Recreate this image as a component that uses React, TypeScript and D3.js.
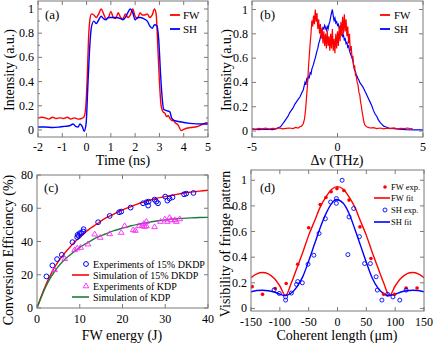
import React from "react";
import * as d3 from "d3";

const FONT = "'Liberation Serif', 'Times New Roman', Times, serif";
const RED = "#ff0000";
const BLUE = "#0000ff";
const GREEN = "#1f7a3f";
const MAGENTA = "#ff22ff";
const FRAME = "#7a7a7a";

type P = [number, number];

// ---------- (a) temporal profiles ----------
const pulseFW: P[] = [[-2,0.1],[-1.85,0.105],[-1.7,0.1],[-1.55,0.09],[-1.4,0.105],[-1.25,0.095],[-1.1,0.1],[-0.95,0.095],[-0.8,0.105],[-0.65,0.09],[-0.5,0.1],[-0.35,0.09],[-0.2,0.095],[-0.1,0.11],[-0.03,0.2],[0.03,0.45],[0.08,0.75],[0.13,0.9],[0.2,0.96],[0.3,0.95],[0.4,0.93],[0.5,0.96],[0.6,1.0],[0.7,0.96],[0.8,0.92],[0.9,0.93],[1.0,0.98],[1.1,0.93],[1.2,0.92],[1.3,0.97],[1.4,0.93],[1.5,0.92],[1.6,0.96],[1.7,0.93],[1.8,0.95],[1.9,1.0],[2.0,0.94],[2.1,0.92],[2.2,0.97],[2.3,0.95],[2.4,0.95],[2.5,0.96],[2.6,0.93],[2.7,0.95],[2.8,1.0],[2.87,0.95],[2.93,0.7],[3.0,0.4],[3.07,0.2],[3.15,0.15],[3.23,0.137],[3.3,0.11],[3.36,0.12],[3.43,0.096],[3.5,0.08],[3.57,0.077],[3.65,0.06],[3.77,0.04],[3.9,-0.005],[4.0,0.005],[4.12,0.014],[4.3,0.02],[4.53,0.027],[4.7,0.04],[4.8,0.05],[4.95,0.06],[5,0.058]];
const pulseSH: P[] = [[-2,0.025],[-1.7,0.025],[-1.4,0.02],[-1.1,0.025],[-0.9,0.03],[-0.7,0.035],[-0.55,0.05],[-0.45,0.03],[-0.35,0.025],[-0.27,0.05],[-0.18,0.03],[-0.1,-0.01],[-0.02,0.05],[0.05,0.35],[0.12,0.65],[0.2,0.85],[0.3,0.9],[0.4,0.88],[0.5,0.91],[0.6,0.94],[0.7,0.92],[0.8,0.91],[0.9,0.93],[1.0,0.93],[1.2,0.93],[1.4,0.92],[1.5,0.91],[1.6,0.93],[1.7,0.97],[1.8,1.0],[1.9,0.97],[2.0,0.91],[2.1,0.93],[2.2,0.93],[2.35,0.92],[2.5,0.9],[2.6,0.86],[2.7,0.84],[2.8,0.87],[2.9,0.86],[2.97,0.75],[3.05,0.45],[3.12,0.25],[3.18,0.17],[3.3,0.16],[3.43,0.15],[3.5,0.1],[3.6,0.08],[3.85,0.068],[4.25,0.055],[4.8,0.05],[5,0.05]];

// ---------- (b) spectra ----------
const specFW: P[] = [[-5,0.02],[-4.8,0.015],[-4.6,0.022],[-4.4,0.018],[-4.2,0.025],[-4.0,0.017],[-3.8,0.022],[-3.6,0.02],[-3.4,0.026],[-3.2,0.018],[-3.0,0.022],[-2.8,0.025],[-2.6,0.02],[-2.45,0.03],[-2.3,0.025],[-2.2,0.035],[-2.1,0.04],[-2.0,0.06],[-1.93,0.1],[-1.87,0.17],[-1.81,0.28],[-1.75,0.39],[-1.7,0.52],[-1.65,0.62],[-1.6,0.72],[-1.55,0.8],[-1.5,0.91],[-1.45,0.86],[-1.4,0.95],[-1.35,0.88],[-1.3,1.0],[-1.25,0.9],[-1.2,0.97],[-1.15,0.84],[-1.1,0.92],[-1.05,0.8],[-1.0,0.88],[-0.95,0.76],[-0.9,0.85],[-0.85,0.72],[-0.8,0.82],[-0.75,0.7],[-0.7,0.8],[-0.65,0.68],[-0.6,0.83],[-0.55,0.7],[-0.5,0.78],[-0.45,0.66],[-0.4,0.8],[-0.35,0.68],[-0.3,0.84],[-0.25,0.66],[-0.2,0.76],[-0.15,0.64],[-0.1,0.8],[-0.05,0.68],[0,0.82],[0.05,0.7],[0.1,0.86],[0.15,0.74],[0.2,0.9],[0.25,0.78],[0.3,0.94],[0.35,0.8],[0.4,0.96],[0.45,0.82],[0.5,0.92],[0.55,0.78],[0.6,0.86],[0.65,0.72],[0.7,0.8],[0.75,0.66],[0.8,0.7],[0.85,0.6],[0.9,0.62],[0.95,0.52],[1.0,0.54],[1.05,0.46],[1.1,0.45],[1.15,0.4],[1.2,0.38],[1.25,0.32],[1.3,0.3],[1.35,0.24],[1.4,0.2],[1.45,0.15],[1.5,0.11],[1.55,0.07],[1.6,0.05],[1.7,0.035],[1.8,0.03],[1.9,0.025],[2.1,0.028],[2.3,0.02],[2.5,0.025],[2.7,0.018],[2.9,0.024],[3.1,0.02],[3.3,0.026],[3.5,0.018],[3.7,0.023],[3.9,0.02],[4.1,0.025],[4.3,0.018],[4.4,0.02]];
const specSH: P[] = [[-5,0.015],[-4.6,0.012],[-4.2,0.015],[-3.8,0.012],[-3.6,0.018],[-3.4,0.03],[-3.3,0.04],[-3.2,0.06],[-3.1,0.08],[-3.0,0.1],[-2.9,0.12],[-2.8,0.15],[-2.7,0.17],[-2.6,0.19],[-2.5,0.22],[-2.4,0.24],[-2.3,0.26],[-2.2,0.28],[-2.1,0.31],[-2.0,0.34],[-1.9,0.4],[-1.85,0.38],[-1.8,0.43],[-1.75,0.42],[-1.7,0.45],[-1.65,0.44],[-1.6,0.48],[-1.55,0.47],[-1.5,0.51],[-1.45,0.53],[-1.4,0.55],[-1.35,0.58],[-1.3,0.6],[-1.25,0.63],[-1.2,0.66],[-1.15,0.68],[-1.1,0.72],[-1.05,0.74],[-1.0,0.77],[-0.95,0.8],[-0.9,0.82],[-0.85,0.85],[-0.8,0.84],[-0.75,0.87],[-0.7,0.85],[-0.65,0.83],[-0.6,0.86],[-0.55,0.84],[-0.5,0.88],[-0.45,0.9],[-0.4,0.94],[-0.35,0.97],[-0.3,1.0],[-0.25,0.95],[-0.2,0.91],[-0.15,0.93],[-0.1,0.89],[-0.05,0.9],[0,0.87],[0.05,0.88],[0.1,0.85],[0.15,0.86],[0.2,0.82],[0.25,0.81],[0.3,0.78],[0.35,0.79],[0.4,0.75],[0.45,0.76],[0.5,0.72],[0.55,0.73],[0.6,0.69],[0.65,0.7],[0.7,0.66],[0.75,0.64],[0.8,0.62],[0.85,0.6],[0.9,0.58],[0.95,0.53],[1.0,0.5],[1.05,0.49],[1.1,0.46],[1.15,0.45],[1.2,0.43],[1.25,0.42],[1.3,0.4],[1.35,0.39],[1.4,0.38],[1.45,0.37],[1.5,0.36],[1.6,0.33],[1.7,0.3],[1.8,0.27],[1.9,0.24],[2.0,0.21],[2.1,0.17],[2.2,0.14],[2.3,0.12],[2.4,0.09],[2.5,0.07],[2.6,0.055],[2.7,0.04],[2.8,0.035],[3.0,0.025],[3.3,0.02],[3.6,0.015],[4.0,0.012],[4.5,0.01],[5,0.01]];

// ---------- (c) conversion efficiency ----------
const expDKDP: P[] = [[2.2,19],[3.6,25.6],[4.7,29.4],[5.8,32],[8.3,39.6],[9.4,42.6],[9.5,44],[9.8,43.4],[10,45],[10.4,45],[10.8,46],[10.9,47.4],[14.3,51.6],[17,55.4],[19.2,57.6],[19.7,58],[21.9,60.4],[24.8,63],[25.6,63.6],[26,61.6],[26.1,64],[27.5,65.2],[27.9,64],[28.3,63],[30,67],[30.5,64.6],[31,65.8],[31.7,66.6],[34.4,68.4],[34.9,68.8],[36.6,69.2]];
const expKDP: P[] = [[4.1,23],[6.5,29.6],[8.8,35],[9.4,36],[10.2,36.4],[11.9,38.4],[13.5,44.4],[14.8,42.4],[17,44.6],[19.7,45.4],[20.5,49.4],[22.5,47],[23,46.6],[23.9,49.4],[24.6,49.6],[25,50.8],[25.2,49],[25.6,49.4],[25.6,52],[27.5,48.8],[28.9,52],[29.9,53.4],[30.5,52],[31,54.4],[31.4,53],[32.2,53],[32.6,52],[33.4,53.6]];
const simDKDP: P[] = [[0,0],[1,7],[2,13.5],[3,19],[4,24],[5,28],[6,31.5],[8,37.5],[10,42.5],[12,47],[14,50.5],[16,54],[18,56.5],[20,59],[22,61],[24,63],[26,64.5],[28,66],[30,67],[32,68],[34,69],[36,69.7],[38,70.3],[40,70.8]];
const simKDP: P[] = [[0,0],[1,6.5],[2,12.5],[3,17.5],[4,21.5],[5,25],[6,28],[8,32.5],[10,36.5],[12,39.5],[14,42.5],[16,44.5],[18,46.5],[20,48],[22,49.5],[24,50.5],[26,51.5],[28,52.3],[30,53],[32,53.5],[34,53.9],[36,54.2],[38,54.4],[40,54.5]];

// ---------- (d) fringe visibility ----------
const fwExp: P[] = [[-148,0.17],[-130,0.11],[-108,0.155],[-89,0.195],[-69,0.345],[-50,0.63],[-30,0.81],[-20,0.865],[-11,0.91],[-1,0.935],[11,0.92],[20,0.845],[39,0.636],[58,0.39],[80,0.11],[99,0.11],[119,0.16],[138,0.16]];
const shExp: P[] = [[-110,0.145],[-101,0.117],[-90,0.09],[-90,0.065],[-80,0.12],[-71,0.187],[-69,0.21],[-61,0.2],[-51,0.345],[-41,0.415],[-32,0.585],[-21,0.7],[-12,0.83],[-2,0.857],[-2,0.82],[8,1.0],[18,0.42],[20,0.714],[28,0.78],[38,0.56],[47,0.35],[57,0.35],[67,0.247],[69,0.143],[77,0.065],[87,0.11],[96,0.09],[108,0.065],[119,0.143]];
const fwFit: P[] = [[-150,0.24],[-140,0.27],[-130,0.28],[-120,0.27],[-110,0.235],[-100,0.175],[-90,0.1],[-80,0.2],[-70,0.32],[-60,0.44],[-50,0.57],[-40,0.68],[-30,0.79],[-20,0.87],[-10,0.93],[0,0.95],[10,0.93],[20,0.87],[30,0.79],[40,0.68],[50,0.57],[60,0.44],[70,0.32],[80,0.2],[90,0.1],[100,0.175],[110,0.235],[120,0.27],[130,0.28],[140,0.27],[150,0.24]];
const shFit: P[] = [[-150,0.13],[-140,0.14],[-130,0.142],[-120,0.138],[-110,0.128],[-100,0.112],[-92,0.1],[-80,0.12],[-70,0.17],[-60,0.25],[-50,0.37],[-40,0.5],[-30,0.63],[-20,0.74],[-10,0.82],[-2,0.85],[10,0.82],[20,0.74],[30,0.62],[40,0.49],[50,0.36],[60,0.24],[70,0.16],[80,0.115],[88,0.1],[100,0.112],[110,0.128],[120,0.138],[130,0.142],[140,0.14],[150,0.13]];

// tick labels
const aXTicks = [-2, -1, 0, 1, 2, 3, 4, 5];
const unitYTicks = [0, 0.2, 0.4, 0.6, 0.8, 1];
const bXTicks = [-5, 0, 5];
const cXTicks = [0, 10, 20, 30, 40];
const cYTicks = [0, 20, 40, 60, 80];
const dXTicks = [-150, -100, -50, 0, 50, 100, 150];

type S = d3.ScaleLinear<number, number>;
const fmt = (v: number) => String(Math.round(v * 100) / 100);
const TS = { fontFamily: FONT };

function Axes({ x, y, xTicks, yTicks, yMinor = [], xMinor = [], xLabOff }: { x: S; y: S; xTicks: number[]; yTicks: number[]; yMinor?: number[]; xMinor?: number[]; xLabOff: number }) {
  const [x0, x1] = x.range();
  const [y0, y1] = y.range();
  const L = 4, l = 2;
  return (
    <g>
      {xTicks.map((t) => (
        <g key={"x" + t}>
          <line x1={x(t)} x2={x(t)} y1={y0} y2={y0 - L} stroke={FRAME} />
          <line x1={x(t)} x2={x(t)} y1={y1} y2={y1 + L} stroke={FRAME} />
          <text x={x(t)} y={y0 + xLabOff} textAnchor="middle" fontSize={12} style={TS}>{fmt(t)}</text>
        </g>
      ))}
      {xMinor.map((t) => (
        <g key={"xm" + t}>
          <line x1={x(t)} x2={x(t)} y1={y0} y2={y0 - l} stroke={FRAME} />
          <line x1={x(t)} x2={x(t)} y1={y1} y2={y1 + l} stroke={FRAME} />
        </g>
      ))}
      {yTicks.map((t) => (
        <g key={"y" + t}>
          <line x1={x0} x2={x0 + L} y1={y(t)} y2={y(t)} stroke={FRAME} />
          <line x1={x1} x2={x1 - L} y1={y(t)} y2={y(t)} stroke={FRAME} />
          <text x={x0 - 4} y={y(t) + 4} textAnchor="end" fontSize={12} style={TS}>{fmt(t)}</text>
        </g>
      ))}
      {yMinor.map((t) => (
        <g key={"ym" + t}>
          <line x1={x0} x2={x0 + l} y1={y(t)} y2={y(t)} stroke={FRAME} />
          <line x1={x1} x2={x1 - l} y1={y(t)} y2={y(t)} stroke={FRAME} />
        </g>
      ))}
      <rect x={x0} y={y1} width={x1 - x0} height={y0 - y1} fill="none" stroke={FRAME} />
    </g>
  );
}

const path = (x: S, y: S, pts: P[], curve: d3.CurveFactory = d3.curveLinear) =>
  d3.line<P>().x((d) => x(d[0])).y((d) => y(d[1])).curve(curve)(pts) || "";

function ClipDef({ id, x, y }: { id: string; x: S; y: S }) {
  const [x0, x1] = x.range();
  const [y0, y1] = y.range();
  return (
    <clipPath id={id}>
      <rect x={x0} y={y1} width={x1 - x0} height={y0 - y1} />
    </clipPath>
  );
}

const tri = (cx: number, cy: number, r: number) =>
  `M${cx},${cy - r}L${cx + r * 0.95},${cy + r * 0.6}L${cx - r * 0.95},${cy + r * 0.6}Z`;

function T(props: any) {
  return <text {...props} style={TS} />;
}

export default function App() {
  const xa = d3.scaleLinear().domain([-2, 5]).range([38, 208]);
  const ya = d3.scaleLinear().domain([-0.058, 1.066]).range([137, 1]);
  const xb = d3.scaleLinear().domain([-5, 5]).range([252, 423]);
  const yb = d3.scaleLinear().domain([-0.049, 1.07]).range([137, 1]);
  const xc = d3.scaleLinear().domain([0, 40]).range([37, 208]);
  const yc = d3.scaleLinear().domain([0, 80]).range([308, 175]);
  const xd = d3.scaleLinear().domain([-150, 150]).range([251, 424]);
  const yd = d3.scaleLinear().domain([-0.02, 1.08]).range([311, 170]);

  const aYMinor = [0.1, 0.3, 0.5, 0.7, 0.9];

  return (
    <svg width={436} height={343} style={{ position: "absolute", left: 0, top: 0, background: "#fff", fontFamily: FONT }}>
      <defs>
        <ClipDef id="ca" x={xa} y={ya} />
        <ClipDef id="cb" x={xb} y={yb} />
        <ClipDef id="cc" x={xc} y={yc} />
        <ClipDef id="cd" x={xd} y={yd} />
      </defs>
      <rect width={436} height={343} fill="#fff" />

      {/* (a) */}
      <g clipPath="url(#ca)">
        <path d={path(xa, ya, pulseFW, d3.curveMonotoneX)} fill="none" stroke={RED} strokeWidth={1.4} />
        <path d={path(xa, ya, pulseSH, d3.curveMonotoneX)} fill="none" stroke={BLUE} strokeWidth={1.4} />
      </g>
      <Axes x={xa} y={ya} xTicks={aXTicks} yTicks={unitYTicks} yMinor={aYMinor} xLabOff={14} />
      <T x={45} y={19} fontSize={13}>(a)</T>
      <line x1={170} x2={180} y1={15} y2={15} stroke={RED} strokeWidth={1.8} />
      <T x={183} y={19} fontSize={11}>FW</T>
      <line x1={170} x2={180} y1={29} y2={29} stroke={BLUE} strokeWidth={1.8} />
      <T x={183} y={33} fontSize={11}>SH</T>
      <T x={123} y={165} fontSize={14} textAnchor="middle">Time (ns)</T>
      <T transform="translate(14,70) rotate(-90)" fontSize={14} textAnchor="middle">Intensity (a.u.)</T>

      {/* (b) */}
      <g clipPath="url(#cb)">
        <path d={path(xb, yb, specSH)} fill="none" stroke={BLUE} strokeWidth={1.2} />
        <path d={path(xb, yb, specFW)} fill="none" stroke={RED} strokeWidth={1.2} />
      </g>
      <Axes x={xb} y={yb} xTicks={bXTicks} yTicks={unitYTicks} xLabOff={14} />
      <T x={260} y={19} fontSize={13}>(b)</T>
      <line x1={380} x2={390} y1={15} y2={15} stroke={RED} strokeWidth={1.8} />
      <T x={394} y={19} fontSize={11}>FW</T>
      <line x1={380} x2={390} y1={29} y2={29} stroke={BLUE} strokeWidth={1.8} />
      <T x={394} y={33} fontSize={11}>SH</T>
      <T x={337} y={165} fontSize={14} textAnchor="middle">Δν (THz)</T>
      <T transform="translate(231,70) rotate(-90)" fontSize={14} textAnchor="middle">Intensity (a.u.)</T>

      {/* (c) */}
      <g clipPath="url(#cc)">
        <path d={path(xc, yc, simDKDP, d3.curveMonotoneX)} fill="none" stroke={RED} strokeWidth={1.4} />
        <path d={path(xc, yc, simKDP, d3.curveMonotoneX)} fill="none" stroke={GREEN} strokeWidth={1.4} />
        {expDKDP.map((d, i) => (
          <circle key={"cd" + i} cx={xc(d[0])} cy={yc(d[1])} r={2.4} fill="none" stroke={BLUE} strokeWidth={1} />
        ))}
        {expKDP.map((d, i) => (
          <path key={"ck" + i} d={tri(xc(d[0]), yc(d[1]), 3)} fill="none" stroke={MAGENTA} strokeWidth={0.9} />
        ))}
      </g>
      <Axes x={xc} y={yc} xTicks={cXTicks} yTicks={cYTicks} xLabOff={15} />
      <T x={44} y={192} fontSize={13}>(c)</T>
      <circle cx={86} cy={264} r={2.4} fill="none" stroke={BLUE} strokeWidth={1} />
      <T x={93} y={267.5} fontSize={10}>Experiments of 15% DKDP</T>
      <line x1={72} x2={89} y1={275} y2={275} stroke={RED} strokeWidth={1.6} />
      <T x={93} y={278.5} fontSize={10}>Simulation of 15% DKDP</T>
      <path d={tri(86, 286, 3)} fill="none" stroke={MAGENTA} strokeWidth={0.9} />
      <T x={93} y={289.5} fontSize={10}>Experiments of KDP</T>
      <line x1={72} x2={89} y1={297} y2={297} stroke={GREEN} strokeWidth={1.6} />
      <T x={93} y={300.5} fontSize={10}>Simulation of KDP</T>
      <T x={122} y={340} fontSize={14} textAnchor="middle">FW energy (J)</T>
      <T transform="translate(13,250) rotate(-90)" fontSize={14} textAnchor="middle">Conversion Efficiency (%)</T>

      {/* (d) */}
      <g clipPath="url(#cd)">
        <path d={path(xd, yd, fwFit, d3.curveMonotoneX)} fill="none" stroke={RED} strokeWidth={1.4} />
        <path d={path(xd, yd, shFit, d3.curveMonotoneX)} fill="none" stroke={BLUE} strokeWidth={1.4} />
        {fwExp.map((d, i) => (
          <circle key={"fe" + i} cx={xd(d[0])} cy={yd(d[1])} r={1.8} fill={RED} />
        ))}
        {shExp.map((d, i) => (
          <circle key={"se" + i} cx={xd(d[0])} cy={yd(d[1])} r={2} fill="none" stroke={BLUE} strokeWidth={0.9} />
        ))}
      </g>
      <Axes x={xd} y={yd} xTicks={dXTicks} yTicks={unitYTicks} xLabOff={14.5} />
      <T x={260} y={192} fontSize={13}>(d)</T>
      <circle cx={385} cy={187} r={1.8} fill={RED} />
      <T x={391} y={190} fontSize={8.5}>FW exp.</T>
      <line x1={374} x2={390} y1={198} y2={198} stroke={RED} strokeWidth={1.6} />
      <T x={391} y={201} fontSize={8.5}>FW fit</T>
      <circle cx={385} cy={210} r={2} fill="none" stroke={BLUE} strokeWidth={0.9} />
      <T x={391} y={213} fontSize={8.5}>SH exp.</T>
      <line x1={374} x2={390} y1={222} y2={222} stroke={BLUE} strokeWidth={1.6} />
      <T x={391} y={225} fontSize={8.5}>SH fit</T>
      <T x={337} y={340} fontSize={14} textAnchor="middle">Coherent length (μm)</T>
      <T transform="translate(230,244) rotate(-90)" fontSize={14} textAnchor="middle">Visibility of fringe pattern</T>
    </svg>
  );
}
